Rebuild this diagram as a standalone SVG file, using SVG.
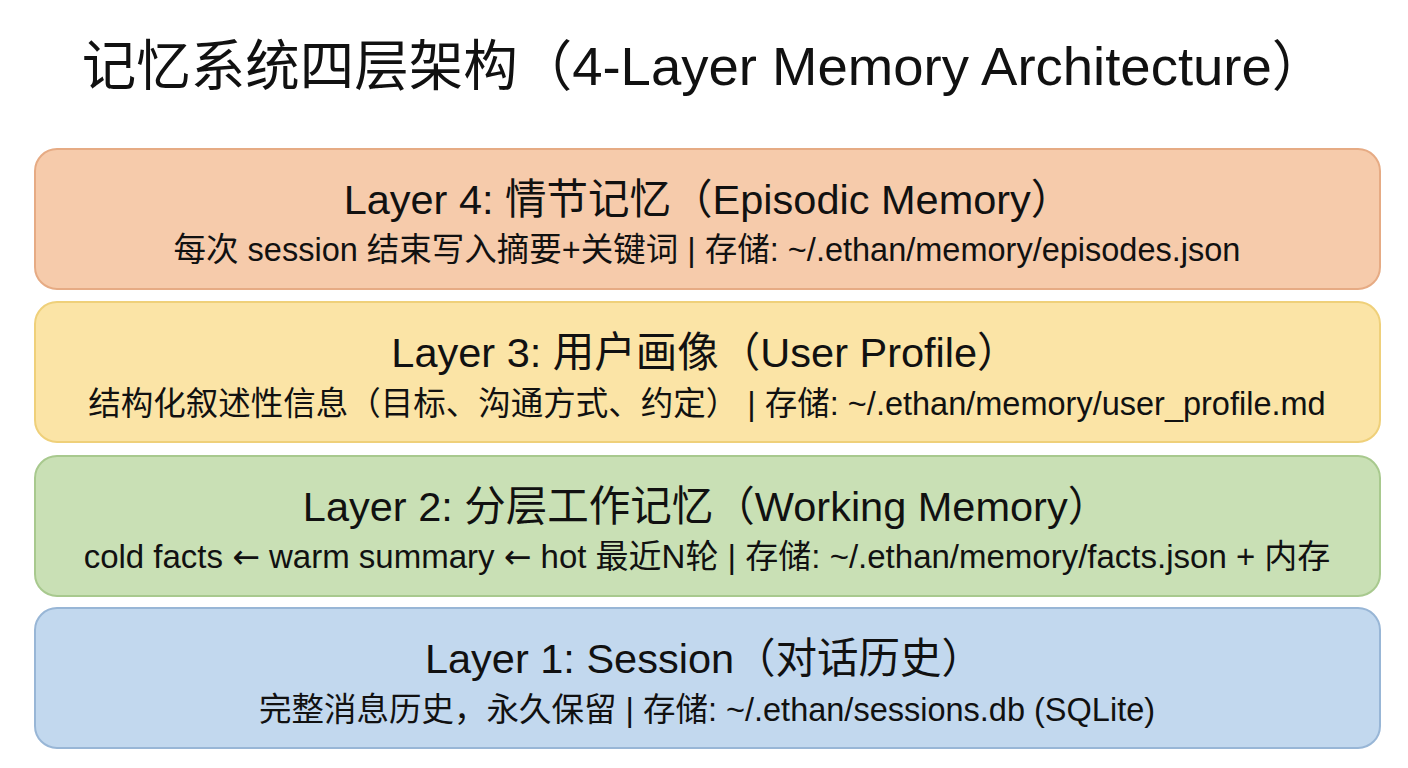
<svg xmlns="http://www.w3.org/2000/svg" width="1408" height="768" viewBox="0 0 1408 768">
<style>
text{font-family:"Liberation Sans","Noto Sans CJK SC",sans-serif;fill:#111;text-anchor:middle}
.t{font-size:54.5px}
.h{font-size:41.5px}
.s{font-size:32.5px}
.box{stroke-width:2}
.ar{font-family:"DejaVu Sans",sans-serif}
</style>
<rect width="1408" height="768" fill="#ffffff"/>
<text class="t" x="704" y="85">记忆系统四层架构（4-Layer Memory Architecture）</text>
<g id="layer4">
<rect class="box" x="35" y="149" width="1345" height="140" rx="22" fill="#f6cbab" stroke="#e6ab84"/>
<text class="h" x="708" y="214">Layer 4: 情节记忆（Episodic Memory）</text>
<text class="s" x="707" y="261">每次 session 结束写入摘要+关键词 | 存储: ~/.ethan/memory/episodes.json</text>
</g>
<g id="layer3">
<rect class="box" x="35" y="302" width="1345" height="140" rx="22" fill="#fbe4a6" stroke="#efd07a"/>
<text class="h" x="705" y="367">Layer 3: 用户画像（User Profile）</text>
<text class="s" x="707" y="415">结构化叙述性信息（目标、沟通方式、约定） | 存储: ~/.ethan/memory/user_profile.md</text>
</g>
<g id="layer2">
<rect class="box" x="35" y="456" width="1345" height="140" rx="22" fill="#c9e0b5" stroke="#a8c98e"/>
<text class="h" x="706" y="521">Layer 2: 分层工作记忆（Working Memory）</text>
<text class="s" x="707" y="568" style="font-size:33px">cold facts <tspan class="ar">←</tspan> warm summary <tspan class="ar">←</tspan> hot 最近N轮 | 存储: ~/.ethan/memory/facts.json + 内存</text>
</g>
<g id="layer1">
<rect class="box" x="35" y="608" width="1345" height="140" rx="22" fill="#c2d8ee" stroke="#98b6d6"/>
<text class="h" x="704" y="673">Layer 1: Session（对话历史）</text>
<text class="s" x="707" y="721">完整消息历史，永久保留 | 存储: ~/.ethan/sessions.db (SQLite)</text>
</g>
<g id="connectors"></g>
</svg>
